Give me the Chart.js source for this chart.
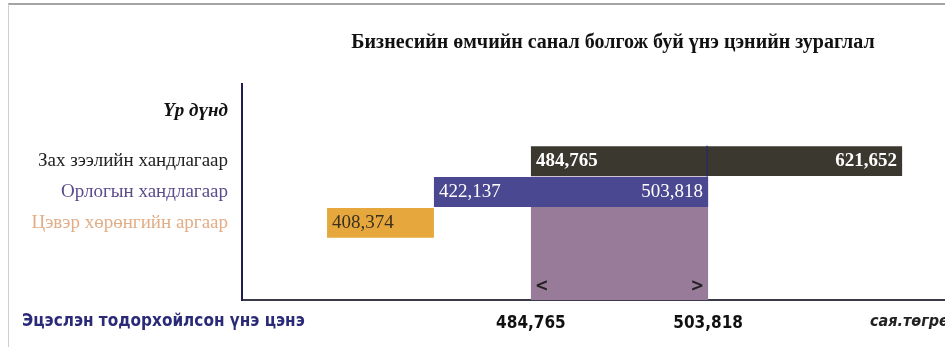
<!DOCTYPE html>
<html>
<head>
<meta charset="utf-8">
<script src="https://cdn.jsdelivr.net/npm/chart.js@4/dist/chart.umd.min.js"></script>
<style>
  body { margin: 0; background: #fff; }
  .wrap { position: relative; width: 945px; height: 347px; overflow: hidden; }
  .frame { position: absolute; left: 8px; top: 3px; right: -4px; bottom: -4px;
           border-top: 2px solid #a4a4a4; border-left: 1px solid #cfcfcf; }
  canvas { position: absolute; left: 0; top: 0; }
</style>
</head>
<body>
<div class="wrap">
  <div class="frame"></div>
  <canvas id="c" width="945" height="347"></canvas>
</div>
<script>
const TITLE = "Бизнесийн өмчийн санал болгож буй үнэ цэнийн зураглал";
const rowLabels = ["Үр дүнд", "", "Зах зээлийн хандлагаар", "Орлогын хандлагаар", "Цэвэр хөрөнгийн аргаар", "", ""];
const methods = ["Зах зээлийн хандлагаар", "Орлогын хандлагаар", "Цэвэр хөрөнгийн аргаар"];
const lowValues = [484765, 422137, 408374];
const highValues = [621652, 503818, 422137];
const showHigh = [true, true, false];
const finalRange = [484765, 503818];
const axisTicks = [484765, 503818];
const FOOT_LEFT = "Эцэслэн тодорхойлсон үнэ цэнэ";
const FOOT_UNIT = "сая.төгрөг";

const barColors = ["#3b3830", "#4a4890", "#e6a73c"];
const labelColors = ["#ffffff", "#ffffff", "#3a3020"];
const tickColors = ["#111111", "#111111", "#222222", "#5c4c8c", "#e2ad86", "#111111", "#111111"];
const SERIF = '"Liberation Serif", "Times New Roman", serif';
const NARROW = '"Liberation Sans Narrow", "DejaVu Sans Condensed", "Liberation Sans", sans-serif';

const fmt = (v) => v.toLocaleString("en-US");

// the original is a schematic "football field": positions are not to scale,
// so the value axis is piecewise linear between knots
class StepScale extends Chart.LinearScale {
  static id = "step";
  static defaults = Chart.LinearScale.defaults;
  getPixelForValue(v) {
    const k = this.options.knots;
    if (v <= k[0][0]) return this.getPixelForDecimal(k[0][1]);
    for (let i = 1; i < k.length; i++) {
      if (v <= k[i][0]) {
        const f = k[i - 1][1] + (v - k[i - 1][0]) / (k[i][0] - k[i - 1][0]) * (k[i][1] - k[i - 1][1]);
        return this.getPixelForDecimal(f);
      }
    }
    return this.getPixelForDecimal(k[k.length - 1][1]);
  }
  getValueForPixel(p) {
    const k = this.options.knots;
    const f = this.getDecimalForPixel(p);
    for (let i = 1; i < k.length; i++) {
      if (f <= k[i][1]) return k[i - 1][0] + (f - k[i - 1][1]) / (k[i][1] - k[i - 1][1]) * (k[i][0] - k[i - 1][0]);
    }
    return k[k.length - 1][0];
  }
}
Chart.register(StepScale);

const data = rowLabels.map((r) => {
  const i = methods.indexOf(r);
  return i < 0 ? null : [lowValues[i], highValues[i]];
});
const colors = rowLabels.map((r) => { const i = methods.indexOf(r); return i < 0 ? "transparent" : barColors[i]; });

const overlay = {
  id: "overlay",
  beforeDatasetsDraw(chart) {
    const { ctx, chartArea, scales: { x, y } } = chart;
    const pitch = y.height / rowLabels.length;
    const l = x.getPixelForValue(finalRange[0]), r = x.getPixelForValue(finalRange[1]);
    const top = y.getPixelForValue(rowLabels.indexOf(methods[1])) - pitch / 2;
    ctx.save();
    ctx.fillStyle = "#987a99";
    ctx.fillRect(l, top, r - l, chartArea.bottom - top);
    ctx.restore();
  },
  afterDatasetsDraw(chart) {
    const { ctx, chartArea, scales: { x, y } } = chart;
    const meta = chart.getDatasetMeta(0);
    ctx.save();
    ctx.textBaseline = "middle";
    rowLabels.forEach((r, idx) => {
      const i = methods.indexOf(r);
      if (i < 0) return;
      const bar = meta.data[idx];
      const { x: xe, y: yc, base } = bar.getProps(["x", "y", "base"], true);
      ctx.fillStyle = labelColors[i];
      ctx.font = (i === 0 ? "bold " : "") + "19px " + SERIF;
      ctx.textAlign = "left";
      ctx.fillText(fmt(lowValues[i]), base + 5, yc);
      if (showHigh[i]) {
        ctx.textAlign = "right";
        ctx.fillText(fmt(highValues[i]), xe - 5, yc);
      }
    });
    // edge of the final range through the top bar
    const pitch = y.height / rowLabels.length;
    const r = x.getPixelForValue(finalRange[1]);
    const l = x.getPixelForValue(finalRange[0]);
    const yTop = y.getPixelForValue(rowLabels.indexOf(methods[0])) - pitch / 2;
    ctx.strokeStyle = "#2c2b5c";
    ctx.lineWidth = 1.5;
    ctx.beginPath();
    ctx.moveTo(r - 1, yTop);
    ctx.lineTo(r - 1, yTop + pitch);
    ctx.stroke();
    // range markers
    ctx.fillStyle = "#222";
    ctx.font = "bold 18px " + NARROW;
    ctx.textAlign = "left";
    ctx.fillText("<", l + 4, chartArea.bottom - 14);
    ctx.textAlign = "right";
    ctx.fillText(">", r - 4, chartArea.bottom - 14);
    ctx.restore();
  },
  afterDraw(chart) {
    const { ctx } = chart;
    ctx.save();
    ctx.textBaseline = "middle";
    ctx.fillStyle = "#111";
    ctx.font = "bold 20px " + SERIF;
    ctx.textAlign = "center";
    ctx.fillText(TITLE, 613, 43);
    ctx.fillStyle = "#2b2a78";
    ctx.font = "bold 17px " + NARROW;
    ctx.textAlign = "left";
    ctx.fillText(FOOT_LEFT, 22, 322);
    ctx.fillStyle = "#222";
    ctx.font = "italic bold 16px " + NARROW;
    ctx.fillText(FOOT_UNIT, 870, 322);
    ctx.restore();
  },
};

new Chart(document.getElementById("c"), {
  type: "bar",
  data: {
    labels: rowLabels,
    datasets: [{
      data,
      backgroundColor: colors,
      borderWidth: 0,
      barPercentage: 1,
      categoryPercentage: 0.97,
    }],
  },
  options: {
    indexAxis: "y",
    responsive: false,
    animation: false,
    layout: { padding: { top: 84, left: 0, right: 0, bottom: 0 } },
    plugins: {
      legend: { display: false },
      tooltip: { enabled: false },
      title: { display: false },
    },
    scales: {
      x: {
        type: "step",
        knots: [[400000, 0], [408374, 0.121], [422137, 0.273], [484765, 0.411], [503818, 0.663], [621652, 0.939], [640000, 1]],
        min: 400000,
        max: 640000,
        grid: { display: false },
        border: { color: "#3a3a4a", width: 2 },
        afterBuildTicks: (s) => { s.ticks = axisTicks.map((v) => ({ value: v })); },
        afterFit: (s) => { s.height = 47; },
        ticks: {
          autoSkip: false,
          maxRotation: 0,
          padding: 5,
          color: "#111",
          font: { family: NARROW, size: 17, weight: "bold" },
          callback: (v) => fmt(v),
        },
      },
      y: {
        grid: { display: false },
        border: { color: "#1e1d50", width: 2 },
        afterFit: (s) => { s.width = 242; },
        ticks: {
          autoSkip: false,
          padding: 6,
          color: (c) => tickColors[c.index],
          font: (c) => c.index === 0
            ? { family: SERIF, size: 19, weight: "bold", style: "italic" }
            : { family: SERIF, size: 19 },
          callback: (v, i) => (i === 0 ? ["", rowLabels[i]] : rowLabels[i]),
        },
      },
    },
  },
  plugins: [overlay],
});
</script>
</body>
</html>
